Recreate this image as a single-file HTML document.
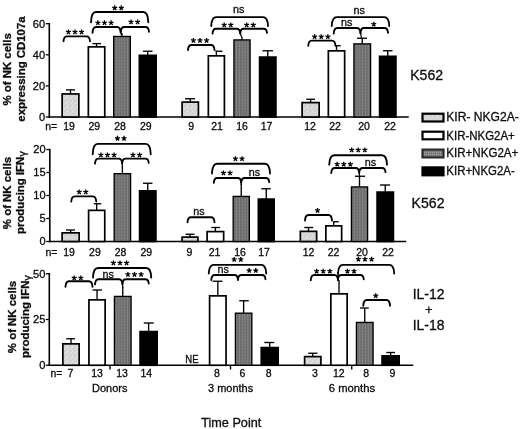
<!DOCTYPE html>
<html><head><meta charset="utf-8"><title>NK cell chart</title>
<style>
html,body{margin:0;padding:0;background:#fff;}
body{width:520px;height:429px;overflow:hidden;}
svg{display:block;will-change:transform;}
svg text{font-family:"Liberation Sans",sans-serif;fill:#0c0c0c;stroke:#0c0c0c;stroke-width:0.3px;}
</style></head><body>
<svg width="520" height="429" viewBox="0 0 520 429">
<defs>
<pattern id="pl" width="5" height="5" patternUnits="userSpaceOnUse">
<rect width="5" height="5" fill="#d8d8d8"/>
<rect x="0" y="0" width="1" height="1" fill="#c6c6c6"/>
<rect x="2" y="1" width="1" height="1" fill="#e6e6e6"/>
<rect x="3" y="3" width="1" height="1" fill="#c8c8c8"/>
<rect x="1" y="3" width="1" height="1" fill="#e2e2e2"/>
<rect x="4" y="1" width="1" height="1" fill="#cccccc"/>
<rect x="1" y="4" width="1" height="1" fill="#cdcdcd"/>
</pattern>
<pattern id="pd" width="2.8" height="3" patternUnits="userSpaceOnUse">
<rect width="2.8" height="3" fill="#686868"/>
<rect x="0.8" y="0" width="1.2" height="3" fill="#8a8a8a"/>
<rect x="0.8" y="2" width="1.2" height="1" fill="#797979"/>
</pattern>
<path id="st" d="M0,0L0.00,-2.60M0,0L2.47,-0.80M0,0L1.53,2.10M0,0L-1.53,2.10M0,0L-2.47,-0.80" stroke="#000" stroke-width="1.3" fill="none"/>
<pattern id="pd2" width="2" height="2" patternUnits="userSpaceOnUse">
<rect width="2" height="2" fill="#7c7c7c"/>
<rect x="0" y="0" width="1" height="1" fill="#a0a0a0"/>
</pattern>
</defs>
<path d="M49.30,23.00L49.30,117.80" stroke="#000" stroke-width="1.6" fill="none"/>
<path d="M48.50,117.00L408.75,117.00" stroke="#000" stroke-width="1.6" fill="none"/>
<path d="M45.80,23.70L49.30,23.70" stroke="#000" stroke-width="1.3" fill="none"/>
<text x="45.20" y="27.50" font-size="11.1" text-anchor="end" font-weight="normal">60</text>
<path d="M45.80,54.80L49.30,54.80" stroke="#000" stroke-width="1.3" fill="none"/>
<text x="45.20" y="58.60" font-size="11.1" text-anchor="end" font-weight="normal">40</text>
<path d="M45.80,85.90L49.30,85.90" stroke="#000" stroke-width="1.3" fill="none"/>
<text x="45.20" y="89.70" font-size="11.1" text-anchor="end" font-weight="normal">20</text>
<path d="M45.80,117.00L49.30,117.00" stroke="#000" stroke-width="1.3" fill="none"/>
<text x="45.20" y="120.80" font-size="11.1" text-anchor="end" font-weight="normal">0</text>
<path d="M70.50,94.10V89.90" stroke="#000" stroke-width="1.35" fill="none"/>
<path d="M66.00,89.90H75.00" stroke="#000" stroke-width="1.35" fill="none"/>
<rect x="62.15" y="93.95" width="16.70" height="23.05" fill="url(#pl)" stroke="#000" stroke-width="1.7"/>
<path d="M96.55,47.00V43.60" stroke="#000" stroke-width="1.35" fill="none"/>
<path d="M92.50,43.60H101.00" stroke="#000" stroke-width="1.35" fill="none"/>
<rect x="88.35" y="46.85" width="16.40" height="70.15" fill="#fff" stroke="#000" stroke-width="1.7"/>
<path d="M122.00,36.80V33.00" stroke="#000" stroke-width="1.35" fill="none"/>
<rect x="113.67" y="36.47" width="16.65" height="80.53" fill="url(#pd)" stroke="#000" stroke-width="1.35"/>
<path d="M147.75,55.50V51.25" stroke="#000" stroke-width="1.35" fill="none"/>
<path d="M143.00,51.25H152.50" stroke="#000" stroke-width="1.35" fill="none"/>
<rect x="139.35" y="55.35" width="16.80" height="61.65" fill="#000" stroke="#000" stroke-width="1.7"/>
<path d="M190.25,102.25V98.75" stroke="#000" stroke-width="1.35" fill="none"/>
<path d="M185.00,98.75H195.00" stroke="#000" stroke-width="1.35" fill="none"/>
<rect x="182.10" y="102.10" width="16.30" height="14.90" fill="url(#pl)" stroke="#000" stroke-width="1.7"/>
<path d="M216.38,56.00V51.25" stroke="#000" stroke-width="1.35" fill="none"/>
<path d="M215.50,51.25H222.50" stroke="#000" stroke-width="1.35" fill="none"/>
<rect x="208.35" y="55.85" width="16.05" height="61.15" fill="#fff" stroke="#000" stroke-width="1.7"/>
<path d="M242.00,40.25V36.75" stroke="#000" stroke-width="1.35" fill="none"/>
<rect x="233.93" y="39.92" width="16.15" height="77.08" fill="url(#pd)" stroke="#000" stroke-width="1.35"/>
<path d="M267.75,57.25V50.75" stroke="#000" stroke-width="1.35" fill="none"/>
<path d="M262.50,50.75H273.00" stroke="#000" stroke-width="1.35" fill="none"/>
<rect x="259.60" y="57.10" width="16.30" height="59.90" fill="#000" stroke="#000" stroke-width="1.7"/>
<path d="M310.62,102.75V99.25" stroke="#000" stroke-width="1.35" fill="none"/>
<path d="M306.25,99.25H315.00" stroke="#000" stroke-width="1.35" fill="none"/>
<rect x="302.10" y="102.60" width="17.05" height="14.40" fill="url(#pl)" stroke="#000" stroke-width="1.7"/>
<path d="M336.50,51.00V45.75" stroke="#000" stroke-width="1.35" fill="none"/>
<path d="M336.00,45.75H340.75" stroke="#000" stroke-width="1.35" fill="none"/>
<rect x="328.35" y="50.85" width="16.30" height="66.15" fill="#fff" stroke="#000" stroke-width="1.7"/>
<path d="M362.25,44.20V38.25" stroke="#000" stroke-width="1.35" fill="none"/>
<path d="M357.00,38.25H367.00" stroke="#000" stroke-width="1.35" fill="none"/>
<rect x="353.93" y="43.88" width="16.65" height="73.12" fill="url(#pd)" stroke="#000" stroke-width="1.35"/>
<path d="M387.75,56.50V50.75" stroke="#000" stroke-width="1.35" fill="none"/>
<path d="M383.00,50.75H392.50" stroke="#000" stroke-width="1.35" fill="none"/>
<rect x="379.60" y="56.35" width="16.30" height="60.65" fill="#000" stroke="#000" stroke-width="1.7"/>
<text x="45.20" y="130.20" font-size="10.5" text-anchor="start" font-weight="normal">n=</text>
<text x="69.00" y="130.20" font-size="10.5" text-anchor="middle" font-weight="normal">19</text>
<text x="94.30" y="130.20" font-size="10.5" text-anchor="middle" font-weight="normal">29</text>
<text x="120.00" y="130.20" font-size="10.5" text-anchor="middle" font-weight="normal">28</text>
<text x="145.80" y="130.20" font-size="10.5" text-anchor="middle" font-weight="normal">29</text>
<text x="191.25" y="130.20" font-size="10.5" text-anchor="middle" font-weight="normal">9</text>
<text x="217.00" y="130.20" font-size="10.5" text-anchor="middle" font-weight="normal">21</text>
<text x="242.00" y="130.20" font-size="10.5" text-anchor="middle" font-weight="normal">16</text>
<text x="266.50" y="130.20" font-size="10.5" text-anchor="middle" font-weight="normal">17</text>
<text x="310.00" y="130.20" font-size="10.5" text-anchor="middle" font-weight="normal">12</text>
<text x="335.00" y="130.20" font-size="10.5" text-anchor="middle" font-weight="normal">22</text>
<text x="364.00" y="130.20" font-size="10.5" text-anchor="middle" font-weight="normal">20</text>
<text x="390.00" y="130.20" font-size="10.5" text-anchor="middle" font-weight="normal">22</text>
<path d="M63.50,41.20C63.70,38.32 64.90,36.40 67.00,36.40H86.50C88.60,36.40 89.80,38.32 90.00,41.20" stroke="#000" stroke-width="1.85" fill="none" stroke-linecap="round"/>
<use href="#st" x="68.40" y="32.00"/>
<use href="#st" x="75.00" y="32.00"/>
<use href="#st" x="81.60" y="32.00"/>
<path d="M92.50,32.80C92.70,29.32 93.90,27.00 96.00,27.00H117.20C119.30,27.00 120.50,29.32 120.70,32.80" stroke="#000" stroke-width="1.85" fill="none" stroke-linecap="round"/>
<use href="#st" x="97.90" y="22.80"/>
<use href="#st" x="104.50" y="22.80"/>
<use href="#st" x="111.10" y="22.80"/>
<path d="M120.70,31.80C120.90,28.92 122.10,27.00 124.20,27.00H145.50C147.60,27.00 148.80,28.92 149.00,31.80" stroke="#000" stroke-width="1.85" fill="none" stroke-linecap="round"/>
<use href="#st" x="131.00" y="22.00"/>
<use href="#st" x="137.60" y="22.00"/>
<path d="M120.70,31.00L121.50,35.50" stroke="#000" stroke-width="1.2" fill="none"/>
<path d="M91.00,22.30C91.20,16.12 93.00,12.00 96.00,12.00H143.30C146.30,12.00 148.10,16.12 148.30,22.30" stroke="#000" stroke-width="1.85" fill="none" stroke-linecap="round"/>
<use href="#st" x="114.70" y="7.90"/>
<use href="#st" x="121.30" y="7.90"/>
<path d="M188.00,50.00C188.20,47.00 189.40,45.00 191.50,45.00H211.00C213.10,45.00 214.30,47.00 214.50,50.00" stroke="#000" stroke-width="1.85" fill="none" stroke-linecap="round"/>
<use href="#st" x="193.40" y="40.50"/>
<use href="#st" x="200.00" y="40.50"/>
<use href="#st" x="206.60" y="40.50"/>
<path d="M212.50,33.60C212.70,30.69 213.90,28.75 216.00,28.75H236.75C238.85,28.75 240.05,30.69 240.25,33.60" stroke="#000" stroke-width="1.85" fill="none" stroke-linecap="round"/>
<use href="#st" x="224.20" y="25.00"/>
<use href="#st" x="230.80" y="25.00"/>
<path d="M240.25,32.90C240.45,30.41 241.65,28.75 243.75,28.75H263.50C265.60,28.75 266.80,30.41 267.00,32.90" stroke="#000" stroke-width="1.85" fill="none" stroke-linecap="round"/>
<use href="#st" x="246.70" y="25.00"/>
<use href="#st" x="253.30" y="25.00"/>
<path d="M240.25,33.00L241.50,37.00" stroke="#000" stroke-width="1.2" fill="none"/>
<path d="M211.25,26.00C211.45,20.66 213.25,17.10 216.25,17.10H263.00C266.00,17.10 267.80,20.66 268.00,26.00" stroke="#000" stroke-width="1.85" fill="none" stroke-linecap="round"/>
<text x="238.75" y="13.30" font-size="10.8" text-anchor="middle" font-weight="normal">ns</text>
<path d="M308.25,45.75C308.45,42.66 309.65,40.60 311.75,40.60H332.00C334.10,40.60 335.30,42.66 335.50,45.75" stroke="#000" stroke-width="1.85" fill="none" stroke-linecap="round"/>
<use href="#st" x="314.65" y="36.75"/>
<use href="#st" x="321.25" y="36.75"/>
<use href="#st" x="327.85" y="36.75"/>
<path d="M333.75,33.50C333.95,30.20 335.15,28.00 337.25,28.00H357.00C359.10,28.00 360.30,30.20 360.50,33.50" stroke="#000" stroke-width="1.85" fill="none" stroke-linecap="round"/>
<text x="346.75" y="26.25" font-size="10.8" text-anchor="middle" font-weight="normal">ns</text>
<path d="M360.50,32.80C360.70,29.92 361.90,28.00 364.00,28.00H384.50C386.60,28.00 387.80,29.92 388.00,32.80" stroke="#000" stroke-width="1.85" fill="none" stroke-linecap="round"/>
<use href="#st" x="373.75" y="24.25"/>
<path d="M360.50,33.00L361.50,38.00" stroke="#000" stroke-width="1.2" fill="none"/>
<path d="M331.75,26.00C331.95,20.66 333.75,17.10 336.75,17.10H384.25C387.25,17.10 389.05,20.66 389.25,26.00" stroke="#000" stroke-width="1.85" fill="none" stroke-linecap="round"/>
<text x="359.25" y="13.60" font-size="10.8" text-anchor="middle" font-weight="normal">ns</text>
<text transform="translate(11.30,69.40) rotate(-90)" font-size="11.4" text-anchor="middle" font-weight="bold" textLength="72.3" lengthAdjust="spacingAndGlyphs">% of NK cells</text>
<text transform="translate(24.60,69.00) rotate(-90)" font-size="11.4" text-anchor="middle" font-weight="bold" textLength="105.3" lengthAdjust="spacingAndGlyphs">expressing CD107a</text>
<text x="410.20" y="80.30" font-size="14" text-anchor="start" font-weight="normal" textLength="32.9" lengthAdjust="spacingAndGlyphs">K562</text>
<path d="M49.80,148.70L49.80,242.30" stroke="#000" stroke-width="1.6" fill="none"/>
<path d="M49.00,241.50L406.25,241.50" stroke="#000" stroke-width="1.6" fill="none"/>
<path d="M46.30,149.50L49.80,149.50" stroke="#000" stroke-width="1.3" fill="none"/>
<text x="45.60" y="153.30" font-size="11.1" text-anchor="end" font-weight="normal">20</text>
<path d="M46.30,172.50L49.80,172.50" stroke="#000" stroke-width="1.3" fill="none"/>
<text x="45.60" y="176.30" font-size="11.1" text-anchor="end" font-weight="normal">15</text>
<path d="M46.30,195.50L49.80,195.50" stroke="#000" stroke-width="1.3" fill="none"/>
<text x="45.60" y="199.30" font-size="11.1" text-anchor="end" font-weight="normal">10</text>
<path d="M46.30,218.50L49.80,218.50" stroke="#000" stroke-width="1.3" fill="none"/>
<text x="45.60" y="222.30" font-size="11.1" text-anchor="end" font-weight="normal">5</text>
<path d="M46.30,241.50L49.80,241.50" stroke="#000" stroke-width="1.3" fill="none"/>
<text x="45.60" y="245.30" font-size="11.1" text-anchor="end" font-weight="normal">0</text>
<path d="M70.62,233.00V230.00" stroke="#000" stroke-width="1.35" fill="none"/>
<path d="M66.00,230.00H75.00" stroke="#000" stroke-width="1.35" fill="none"/>
<rect x="62.10" y="232.85" width="17.05" height="8.65" fill="url(#pl)" stroke="#000" stroke-width="1.7"/>
<path d="M96.67,210.50V203.75" stroke="#000" stroke-width="1.35" fill="none"/>
<path d="M93.75,203.75H101.25" stroke="#000" stroke-width="1.35" fill="none"/>
<rect x="88.60" y="210.35" width="16.15" height="31.15" fill="#fff" stroke="#000" stroke-width="1.7"/>
<path d="M122.38,174.00V166.25" stroke="#000" stroke-width="1.35" fill="none"/>
<rect x="114.17" y="173.68" width="16.40" height="67.83" fill="url(#pd)" stroke="#000" stroke-width="1.35"/>
<path d="M147.75,191.00V183.25" stroke="#000" stroke-width="1.35" fill="none"/>
<path d="M143.00,183.25H152.50" stroke="#000" stroke-width="1.35" fill="none"/>
<rect x="139.60" y="190.85" width="16.30" height="50.65" fill="#000" stroke="#000" stroke-width="1.7"/>
<path d="M190.00,237.25V234.25" stroke="#000" stroke-width="1.35" fill="none"/>
<path d="M185.50,234.25H194.50" stroke="#000" stroke-width="1.35" fill="none"/>
<rect x="182.10" y="237.10" width="15.80" height="4.40" fill="url(#pl)" stroke="#000" stroke-width="1.7"/>
<path d="M215.38,231.75V227.50" stroke="#000" stroke-width="1.35" fill="none"/>
<path d="M211.25,227.50H220.00" stroke="#000" stroke-width="1.35" fill="none"/>
<rect x="207.10" y="231.60" width="16.55" height="9.90" fill="#fff" stroke="#000" stroke-width="1.7"/>
<path d="M241.25,196.75V183.75" stroke="#000" stroke-width="1.35" fill="none"/>
<rect x="233.18" y="196.43" width="16.15" height="45.08" fill="url(#pd)" stroke="#000" stroke-width="1.35"/>
<path d="M266.25,199.25V188.75" stroke="#000" stroke-width="1.35" fill="none"/>
<path d="M261.25,188.75H270.75" stroke="#000" stroke-width="1.35" fill="none"/>
<rect x="258.35" y="199.10" width="15.80" height="42.40" fill="#000" stroke="#000" stroke-width="1.7"/>
<path d="M308.50,231.50V227.50" stroke="#000" stroke-width="1.35" fill="none"/>
<path d="M304.25,227.50H313.25" stroke="#000" stroke-width="1.35" fill="none"/>
<rect x="300.35" y="231.35" width="16.30" height="10.15" fill="url(#pl)" stroke="#000" stroke-width="1.7"/>
<path d="M333.75,226.00V221.75" stroke="#000" stroke-width="1.35" fill="none"/>
<path d="M333.00,221.75H338.75" stroke="#000" stroke-width="1.35" fill="none"/>
<rect x="325.85" y="225.85" width="15.80" height="15.65" fill="#fff" stroke="#000" stroke-width="1.7"/>
<path d="M359.50,187.25V176.25" stroke="#000" stroke-width="1.35" fill="none"/>
<path d="M355.00,176.25H365.00" stroke="#000" stroke-width="1.35" fill="none"/>
<rect x="351.43" y="186.93" width="16.15" height="54.58" fill="url(#pd)" stroke="#000" stroke-width="1.35"/>
<path d="M385.25,192.25V185.00" stroke="#000" stroke-width="1.35" fill="none"/>
<path d="M380.00,185.00H390.00" stroke="#000" stroke-width="1.35" fill="none"/>
<rect x="377.10" y="192.10" width="16.30" height="49.40" fill="#000" stroke="#000" stroke-width="1.7"/>
<text x="45.50" y="255.60" font-size="10.5" text-anchor="start" font-weight="normal">n=</text>
<text x="69.00" y="255.60" font-size="10.5" text-anchor="middle" font-weight="normal">19</text>
<text x="94.90" y="255.60" font-size="10.5" text-anchor="middle" font-weight="normal">29</text>
<text x="120.60" y="255.60" font-size="10.5" text-anchor="middle" font-weight="normal">28</text>
<text x="146.25" y="255.60" font-size="10.5" text-anchor="middle" font-weight="normal">29</text>
<text x="189.50" y="255.60" font-size="10.5" text-anchor="middle" font-weight="normal">9</text>
<text x="214.50" y="255.60" font-size="10.5" text-anchor="middle" font-weight="normal">21</text>
<text x="240.00" y="255.60" font-size="10.5" text-anchor="middle" font-weight="normal">16</text>
<text x="264.00" y="255.60" font-size="10.5" text-anchor="middle" font-weight="normal">17</text>
<text x="308.50" y="255.60" font-size="10.5" text-anchor="middle" font-weight="normal">12</text>
<text x="333.60" y="255.60" font-size="10.5" text-anchor="middle" font-weight="normal">22</text>
<text x="362.00" y="255.60" font-size="10.5" text-anchor="middle" font-weight="normal">20</text>
<text x="388.00" y="255.60" font-size="10.5" text-anchor="middle" font-weight="normal">22</text>
<path d="M71.25,201.50C71.45,198.38 72.65,196.30 74.75,196.30H92.75C94.85,196.30 96.05,198.38 96.25,201.50" stroke="#000" stroke-width="1.85" fill="none" stroke-linecap="round"/>
<use href="#st" x="79.20" y="192.00"/>
<use href="#st" x="85.80" y="192.00"/>
<path d="M95.00,163.60C95.20,160.60 96.40,158.60 98.50,158.60H118.70C120.80,158.60 122.00,160.60 122.20,163.60" stroke="#000" stroke-width="1.85" fill="none" stroke-linecap="round"/>
<use href="#st" x="100.90" y="155.00"/>
<use href="#st" x="107.50" y="155.00"/>
<use href="#st" x="114.10" y="155.00"/>
<path d="M122.20,162.90C122.40,160.32 123.60,158.60 125.70,158.60H145.25C147.35,158.60 148.55,160.32 148.75,162.90" stroke="#000" stroke-width="1.85" fill="none" stroke-linecap="round"/>
<use href="#st" x="132.95" y="155.00"/>
<use href="#st" x="139.55" y="155.00"/>
<path d="M122.20,163.00L122.40,167.00" stroke="#000" stroke-width="1.2" fill="none"/>
<path d="M92.70,154.20C92.90,147.96 94.70,143.80 97.70,143.80H145.75C148.75,143.80 150.55,147.96 150.75,154.20" stroke="#000" stroke-width="1.85" fill="none" stroke-linecap="round"/>
<use href="#st" x="117.45" y="138.40"/>
<use href="#st" x="124.05" y="138.40"/>
<path d="M187.50,222.25C187.70,219.25 188.90,217.25 191.00,217.25H211.00C213.10,217.25 214.30,219.25 214.50,222.25" stroke="#000" stroke-width="1.85" fill="none" stroke-linecap="round"/>
<text x="199.00" y="215.00" font-size="10.8" text-anchor="middle" font-weight="normal">ns</text>
<path d="M213.75,182.90C213.95,179.96 215.15,178.00 217.25,178.00H237.75C239.85,178.00 241.05,179.96 241.25,182.90" stroke="#000" stroke-width="1.85" fill="none" stroke-linecap="round"/>
<use href="#st" x="223.45" y="173.00"/>
<use href="#st" x="230.05" y="173.00"/>
<path d="M241.25,182.20C241.45,179.68 242.65,178.00 244.75,178.00H265.75C267.85,178.00 269.05,179.68 269.25,182.20" stroke="#000" stroke-width="1.85" fill="none" stroke-linecap="round"/>
<text x="254.50" y="175.50" font-size="10.8" text-anchor="middle" font-weight="normal">ns</text>
<path d="M241.25,182.50L241.25,185.00" stroke="#000" stroke-width="1.2" fill="none"/>
<path d="M212.00,173.50C212.20,167.62 214.00,163.70 217.00,163.70H265.00C268.00,163.70 269.80,167.62 270.00,173.50" stroke="#000" stroke-width="1.85" fill="none" stroke-linecap="round"/>
<use href="#st" x="235.45" y="158.75"/>
<use href="#st" x="242.05" y="158.75"/>
<path d="M305.00,220.50C305.20,217.20 306.40,215.00 308.50,215.00H328.50C330.60,215.00 331.80,217.20 332.00,220.50" stroke="#000" stroke-width="1.85" fill="none" stroke-linecap="round"/>
<use href="#st" x="317.50" y="210.50"/>
<path d="M331.25,173.00C331.45,170.00 332.65,168.00 334.75,168.00H355.75C357.85,168.00 359.05,170.00 359.25,173.00" stroke="#000" stroke-width="1.85" fill="none" stroke-linecap="round"/>
<use href="#st" x="337.15" y="164.25"/>
<use href="#st" x="343.75" y="164.25"/>
<use href="#st" x="350.35" y="164.25"/>
<path d="M359.25,172.20C359.45,169.68 360.65,168.00 362.75,168.00H382.00C384.10,168.00 385.30,169.68 385.50,172.20" stroke="#000" stroke-width="1.85" fill="none" stroke-linecap="round"/>
<text x="370.50" y="165.50" font-size="10.8" text-anchor="middle" font-weight="normal">ns</text>
<path d="M359.25,173.00L359.50,176.50" stroke="#000" stroke-width="1.2" fill="none"/>
<path d="M329.25,164.70C329.45,159.00 331.25,155.20 334.25,155.20H382.00C385.00,155.20 386.80,159.00 387.00,164.70" stroke="#000" stroke-width="1.85" fill="none" stroke-linecap="round"/>
<use href="#st" x="351.65" y="150.00"/>
<use href="#st" x="358.25" y="150.00"/>
<use href="#st" x="364.85" y="150.00"/>
<text transform="translate(11.20,193.00) rotate(-90)" font-size="11.4" text-anchor="middle" font-weight="bold" textLength="72.3" lengthAdjust="spacingAndGlyphs">% of NK cells</text>
<text transform="translate(24.30,234.00) rotate(-90)" font-size="11.4" text-anchor="start" font-weight="bold" textLength="77.3" lengthAdjust="spacingAndGlyphs">producing IFN</text>
<text transform="translate(25.60,156.60) rotate(-90)" font-size="10.5" text-anchor="start" font-weight="normal">γ</text>
<text x="411.60" y="208.20" font-size="14" text-anchor="start" font-weight="normal" textLength="32.9" lengthAdjust="spacingAndGlyphs">K562</text>
<path d="M49.30,273.00L49.30,366.05" stroke="#000" stroke-width="1.6" fill="none"/>
<path d="M48.50,365.25L413.25,365.25" stroke="#000" stroke-width="1.6" fill="none"/>
<path d="M45.80,273.75L49.30,273.75" stroke="#000" stroke-width="1.3" fill="none"/>
<text x="45.40" y="277.55" font-size="11.1" text-anchor="end" font-weight="normal">50</text>
<path d="M45.80,319.50L49.30,319.50" stroke="#000" stroke-width="1.3" fill="none"/>
<text x="45.40" y="323.30" font-size="11.1" text-anchor="end" font-weight="normal">25</text>
<path d="M45.80,365.25L49.30,365.25" stroke="#000" stroke-width="1.3" fill="none"/>
<text x="45.40" y="369.05" font-size="11.1" text-anchor="end" font-weight="normal">0</text>
<path d="M110.00,365.25L110.00,369.50" stroke="#000" stroke-width="1.4" fill="none"/>
<path d="M230.50,365.25L230.50,369.50" stroke="#000" stroke-width="1.4" fill="none"/>
<path d="M351.75,365.25L351.75,369.50" stroke="#000" stroke-width="1.4" fill="none"/>
<path d="M71.00,344.00V338.75" stroke="#000" stroke-width="1.35" fill="none"/>
<path d="M66.25,338.75H75.00" stroke="#000" stroke-width="1.35" fill="none"/>
<rect x="62.85" y="343.85" width="16.30" height="21.40" fill="url(#pl)" stroke="#000" stroke-width="1.7"/>
<path d="M97.05,300.00V290.00" stroke="#000" stroke-width="1.35" fill="none"/>
<path d="M92.50,290.00H102.00" stroke="#000" stroke-width="1.35" fill="none"/>
<rect x="88.95" y="299.85" width="16.20" height="65.40" fill="#fff" stroke="#000" stroke-width="1.7"/>
<path d="M122.75,296.75V286.25" stroke="#000" stroke-width="1.35" fill="none"/>
<rect x="114.42" y="296.43" width="16.65" height="68.83" fill="url(#pd)" stroke="#000" stroke-width="1.35"/>
<path d="M148.62,331.75V323.00" stroke="#000" stroke-width="1.35" fill="none"/>
<path d="M143.75,323.00H153.75" stroke="#000" stroke-width="1.35" fill="none"/>
<rect x="140.10" y="331.60" width="17.05" height="33.65" fill="#000" stroke="#000" stroke-width="1.7"/>
<path d="M217.82,296.00V281.25" stroke="#000" stroke-width="1.35" fill="none"/>
<path d="M212.50,281.25H222.50" stroke="#000" stroke-width="1.35" fill="none"/>
<rect x="209.60" y="295.85" width="16.45" height="69.40" fill="#fff" stroke="#000" stroke-width="1.7"/>
<path d="M243.62,313.50V300.75" stroke="#000" stroke-width="1.35" fill="none"/>
<path d="M239.25,300.75H248.75" stroke="#000" stroke-width="1.35" fill="none"/>
<rect x="235.43" y="313.18" width="16.40" height="52.08" fill="url(#pd)" stroke="#000" stroke-width="1.35"/>
<path d="M269.70,347.75V342.50" stroke="#000" stroke-width="1.35" fill="none"/>
<path d="M264.25,342.50H274.25" stroke="#000" stroke-width="1.35" fill="none"/>
<rect x="261.25" y="347.60" width="16.90" height="17.65" fill="#000" stroke="#000" stroke-width="1.7"/>
<path d="M312.75,356.75V353.25" stroke="#000" stroke-width="1.35" fill="none"/>
<path d="M308.25,353.25H317.50" stroke="#000" stroke-width="1.35" fill="none"/>
<rect x="304.60" y="356.60" width="16.30" height="8.65" fill="url(#pl)" stroke="#000" stroke-width="1.7"/>
<path d="M339.00,294.00V280.00" stroke="#000" stroke-width="1.35" fill="none"/>
<rect x="330.85" y="293.85" width="16.30" height="71.40" fill="#fff" stroke="#000" stroke-width="1.7"/>
<path d="M364.75,322.75V308.00" stroke="#000" stroke-width="1.35" fill="none"/>
<path d="M360.00,308.00H368.75" stroke="#000" stroke-width="1.35" fill="none"/>
<rect x="356.43" y="322.43" width="16.65" height="42.83" fill="url(#pd)" stroke="#000" stroke-width="1.35"/>
<path d="M390.62,356.00V352.50" stroke="#000" stroke-width="1.35" fill="none"/>
<path d="M386.25,352.50H395.00" stroke="#000" stroke-width="1.35" fill="none"/>
<rect x="382.10" y="355.85" width="17.05" height="9.40" fill="#000" stroke="#000" stroke-width="1.7"/>
<text x="185.30" y="362.90" font-size="10" text-anchor="start" font-weight="normal" textLength="13.3" lengthAdjust="spacingAndGlyphs">NE</text>
<text x="50.50" y="376.60" font-size="10.5" text-anchor="start" font-weight="normal">n=</text>
<text x="70.50" y="376.60" font-size="10.5" text-anchor="middle" font-weight="normal">7</text>
<text x="97.00" y="376.60" font-size="10.5" text-anchor="middle" font-weight="normal">13</text>
<text x="122.00" y="376.60" font-size="10.5" text-anchor="middle" font-weight="normal">13</text>
<text x="146.25" y="376.60" font-size="10.5" text-anchor="middle" font-weight="normal">14</text>
<text x="217.00" y="376.60" font-size="10.5" text-anchor="middle" font-weight="normal">8</text>
<text x="242.50" y="376.60" font-size="10.5" text-anchor="middle" font-weight="normal">6</text>
<text x="268.75" y="376.60" font-size="10.5" text-anchor="middle" font-weight="normal">8</text>
<text x="315.00" y="376.60" font-size="10.5" text-anchor="middle" font-weight="normal">3</text>
<text x="338.75" y="376.60" font-size="10.5" text-anchor="middle" font-weight="normal">12</text>
<text x="366.25" y="376.60" font-size="10.5" text-anchor="middle" font-weight="normal">8</text>
<text x="392.50" y="376.60" font-size="10.5" text-anchor="middle" font-weight="normal">9</text>
<path d="M65.50,286.75C65.70,283.45 66.90,281.25 69.00,281.25H89.00C91.10,281.25 92.30,283.45 92.50,286.75" stroke="#000" stroke-width="1.85" fill="none" stroke-linecap="round"/>
<use href="#st" x="74.20" y="278.00"/>
<use href="#st" x="80.80" y="278.00"/>
<path d="M95.00,284.40C95.20,281.31 96.40,279.25 98.50,279.25H119.00C121.10,279.25 122.30,281.31 122.50,284.40" stroke="#000" stroke-width="1.85" fill="none" stroke-linecap="round"/>
<text x="108.10" y="277.50" font-size="10.8" text-anchor="middle" font-weight="normal">ns</text>
<path d="M122.50,283.50C122.70,280.95 123.90,279.25 126.00,279.25H145.25C147.35,279.25 148.55,280.95 148.75,283.50" stroke="#000" stroke-width="1.85" fill="none" stroke-linecap="round"/>
<use href="#st" x="127.90" y="274.50"/>
<use href="#st" x="134.50" y="274.50"/>
<use href="#st" x="141.10" y="274.50"/>
<path d="M122.50,284.00L122.70,288.00" stroke="#000" stroke-width="1.2" fill="none"/>
<path d="M93.00,277.60C93.20,271.84 95.00,268.00 98.00,268.00H146.25C149.25,268.00 151.05,271.84 151.25,277.60" stroke="#000" stroke-width="1.85" fill="none" stroke-linecap="round"/>
<use href="#st" x="113.40" y="263.00"/>
<use href="#st" x="120.00" y="263.00"/>
<use href="#st" x="126.60" y="263.00"/>
<path d="M211.25,280.00C211.45,277.00 212.65,275.00 214.75,275.00H234.50C236.60,275.00 237.80,277.00 238.00,280.00" stroke="#000" stroke-width="1.85" fill="none" stroke-linecap="round"/>
<text x="223.25" y="273.30" font-size="10.8" text-anchor="middle" font-weight="normal">ns</text>
<path d="M238.00,279.20C238.20,276.68 239.40,275.00 241.50,275.00H262.00C264.10,275.00 265.30,276.68 265.50,279.20" stroke="#000" stroke-width="1.85" fill="none" stroke-linecap="round"/>
<use href="#st" x="249.20" y="270.60"/>
<use href="#st" x="255.80" y="270.60"/>
<path d="M208.75,273.50C208.95,268.28 210.75,264.80 213.75,264.80H261.25C264.25,264.80 266.05,268.28 266.25,273.50" stroke="#000" stroke-width="1.85" fill="none" stroke-linecap="round"/>
<use href="#st" x="234.20" y="259.50"/>
<use href="#st" x="240.80" y="259.50"/>
<path d="M310.75,280.20C310.95,277.08 312.15,275.00 314.25,275.00H334.50C336.60,275.00 337.80,277.08 338.00,280.20" stroke="#000" stroke-width="1.85" fill="none" stroke-linecap="round"/>
<use href="#st" x="316.65" y="271.25"/>
<use href="#st" x="323.25" y="271.25"/>
<use href="#st" x="329.85" y="271.25"/>
<path d="M338.00,279.30C338.20,276.72 339.40,275.00 341.50,275.00H360.25C362.35,275.00 363.55,276.72 363.75,279.30" stroke="#000" stroke-width="1.85" fill="none" stroke-linecap="round"/>
<use href="#st" x="347.45" y="271.25"/>
<use href="#st" x="354.05" y="271.25"/>
<path d="M338.00,273.50C338.20,268.28 340.00,264.80 343.00,264.80H389.25C392.25,264.80 394.05,268.28 394.25,273.50" stroke="#000" stroke-width="1.85" fill="none" stroke-linecap="round"/>
<use href="#st" x="358.40" y="259.25"/>
<use href="#st" x="365.00" y="259.25"/>
<use href="#st" x="371.60" y="259.25"/>
<path d="M338.00,272.00L338.30,281.00" stroke="#000" stroke-width="1.4" fill="none"/>
<path d="M363.25,305.75C363.45,302.30 364.65,300.00 366.75,300.00H386.50C388.60,300.00 389.80,302.30 390.00,305.75" stroke="#000" stroke-width="1.85" fill="none" stroke-linecap="round"/>
<use href="#st" x="375.75" y="295.75"/>
<text transform="translate(16.30,317.00) rotate(-90)" font-size="11.4" text-anchor="middle" font-weight="bold" textLength="72.3" lengthAdjust="spacingAndGlyphs">% of NK cells</text>
<text transform="translate(29.40,357.90) rotate(-90)" font-size="11.4" text-anchor="start" font-weight="bold" textLength="77.3" lengthAdjust="spacingAndGlyphs">producing IFN</text>
<text transform="translate(30.70,280.50) rotate(-90)" font-size="10.5" text-anchor="start" font-weight="normal">γ</text>
<text x="412.70" y="298.50" font-size="14" text-anchor="start" font-weight="normal" textLength="31.8" lengthAdjust="spacingAndGlyphs">IL-12</text>
<text x="428.75" y="314.30" font-size="13" text-anchor="middle" font-weight="normal">+</text>
<text x="412.70" y="330.00" font-size="14" text-anchor="start" font-weight="normal" textLength="31.8" lengthAdjust="spacingAndGlyphs">IL-18</text>
<text x="109.75" y="391.90" font-size="11" text-anchor="middle" font-weight="normal" textLength="35.5" lengthAdjust="spacingAndGlyphs">Donors</text>
<text x="230.60" y="391.70" font-size="11" text-anchor="middle" font-weight="normal" textLength="45.2" lengthAdjust="spacingAndGlyphs">3 months</text>
<text x="351.90" y="391.70" font-size="11" text-anchor="middle" font-weight="normal" textLength="46.2" lengthAdjust="spacingAndGlyphs">6 months</text>
<text x="231.25" y="426.60" font-size="12.5" text-anchor="middle" font-weight="normal" textLength="60" lengthAdjust="spacingAndGlyphs">Time Point</text>
<rect x="422.50" y="113.70" width="21.00" height="7.80" fill="url(#pl)" stroke="#000" stroke-width="2.2"/>
<text x="446.30" y="121.40" font-size="12" text-anchor="start" font-weight="normal" textLength="72.5" lengthAdjust="spacingAndGlyphs">KIR- NKG2A-</text>
<rect x="422.50" y="131.70" width="21.00" height="7.60" fill="#fff" stroke="#000" stroke-width="2.2"/>
<text x="446.30" y="139.60" font-size="12" text-anchor="start" font-weight="normal" textLength="68.5" lengthAdjust="spacingAndGlyphs">KIR-NKG2A+</text>
<rect x="422.50" y="149.60" width="21.00" height="7.80" fill="url(#pd2)" stroke="#2a2a2a" stroke-width="2.2"/>
<text x="446.30" y="157.20" font-size="12" text-anchor="start" font-weight="normal" textLength="72" lengthAdjust="spacingAndGlyphs">KIR+NKG2A+</text>
<rect x="422.50" y="167.40" width="21.00" height="7.90" fill="#000" stroke="#000" stroke-width="2.2"/>
<text x="446.30" y="175.20" font-size="12" text-anchor="start" font-weight="normal" textLength="68.5" lengthAdjust="spacingAndGlyphs">KIR+NKG2A-</text>
</svg>
</body></html>
